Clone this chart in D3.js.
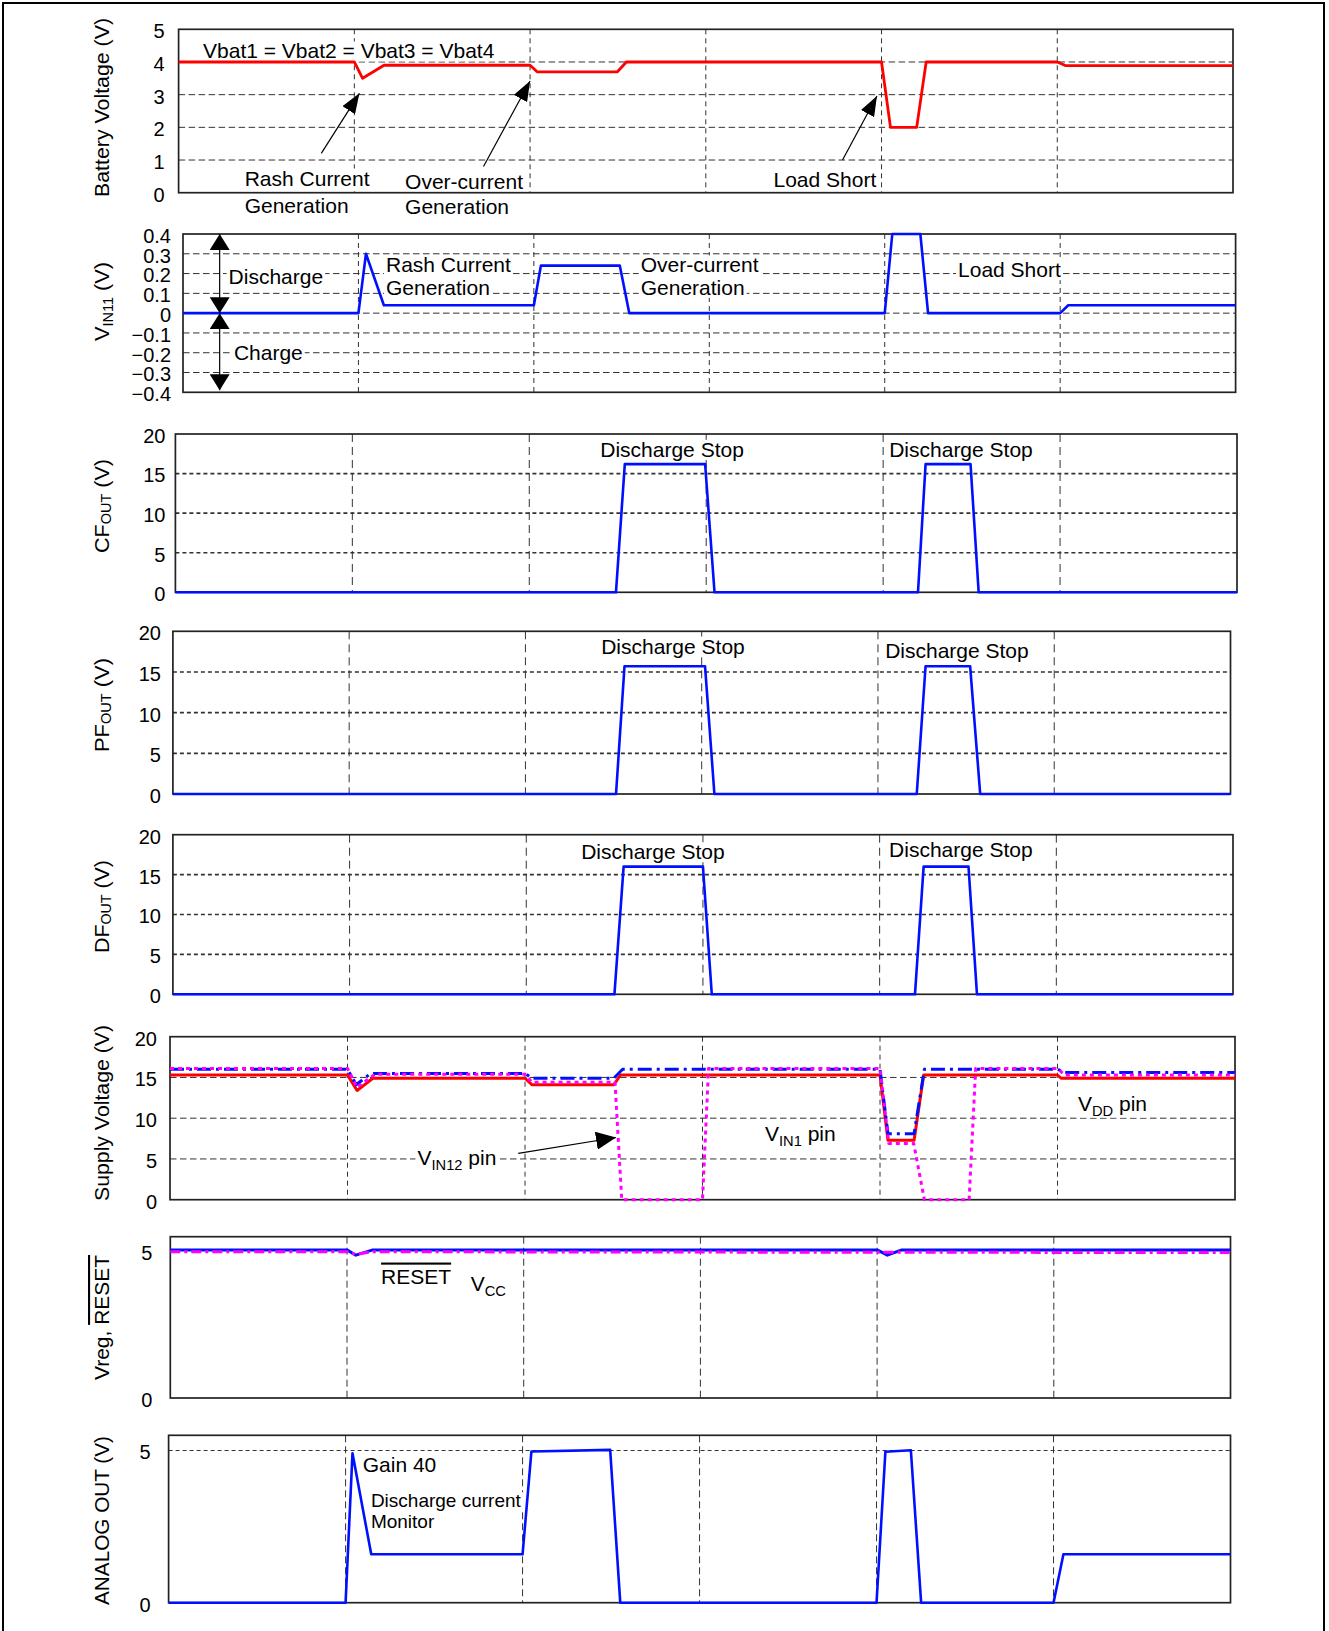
<!DOCTYPE html>
<html><head><meta charset="utf-8">
<script src="https://cdn.jsdelivr.net/npm/d3@7"></script>
<style>
body{margin:0;background:#fff;}
svg{display:block;font-family:"Liberation Sans",Arial,Helvetica,sans-serif;}
</style></head><body>
<svg id="chart" width="1329" height="1631"></svg>
<script>
// ---------------- data (time in grid units 0..6) ----------------
const timeGrid = [1, 2, 3, 4, 5];
const batteryTicks = [0, 1, 2, 3, 4, 5];
const vin11Ticks = [-0.4, -0.3, -0.2, -0.1, 0, 0.1, 0.2, 0.3, 0.4];
const fetTicks = [0, 5, 10, 15, 20];
const vregTicks = [0, 5];
const analogTicks = [0, 5];

const batteryVoltage = [[0,4.0],[1.0,4.0],[1.047,3.5],[1.169,3.9],[2.0,3.9],[2.04,3.7],[2.497,3.7],[2.548,4.0],[4.0,4.0],[4.051,2.0],[4.2,2.0],[4.254,4.0],[5.0,4.0],[5.046,3.89],[6,3.89]];
const vin11 = [[0,0],[1.0,0],[1.043,0.30],[1.145,0.04],[2.0,0.04],[2.04,0.24],[2.49,0.24],[2.544,0],[4.0,0],[4.043,0.4],[4.203,0.4],[4.247,0],[5.0,0],[5.046,0.04],[6,0.04]];
const cfOut = [[0,0],[2.49,0],[2.54,16.2],[2.994,16.2],[3.047,0],[4.197,0],[4.24,16.2],[4.494,16.2],[4.54,0],[6,0]];
const pfOut = [[0,0],[2.514,0],[2.562,15.7],[3.019,15.7],[3.072,0],[4.22,0],[4.27,15.7],[4.523,15.7],[4.58,0],[6,0]];
const dfOut = [[0,0],[2.499,0],[2.551,16.0],[3.0,16.0],[3.05,0],[4.2,0],[4.249,16.0],[4.503,16.0],[4.551,0],[6,0]];
const vddPin = [[0,15.3],[1.0,15.3],[1.054,13.4],[1.143,14.9],[2.0,14.9],[2.04,14.1],[2.5,14.1],[2.538,15.3],[4.0,15.3],[4.045,7.3],[4.192,7.3],[4.246,15.3],[5.0,15.3],[5.02,14.9],[6,14.9]];
const vin1Pin = [[0,16.0],[1.0,16.0],[1.049,14.1],[1.131,15.5],[2.0,15.5],[2.04,14.9],[2.5,14.9],[2.55,16.0],[4.0,16.0],[4.045,8.1],[4.192,8.1],[4.25,16.0],[5.0,16.0],[5.04,15.6],[6,15.6]];
const vin12Pin = [[0,16.1],[1.0,16.1],[1.054,13.8],[1.155,15.4],[2.0,15.4],[2.04,14.4],[2.507,14.4],[2.545,0],[3.0,0],[3.034,16.1],[4.0,16.1],[4.05,6.9],[4.19,6.9],[4.25,0],[4.502,0],[4.539,16.1],[5.0,16.1],[5.04,15.3],[6,15.3]];
const vccLine = [[0,5.05],[1.0,5.05],[1.05,4.87],[1.146,5.05],[4.0,5.05],[4.058,4.87],[4.14,5.05],[6,5.05]];
const resetLine = [[0,4.99],[1.0,4.99],[1.05,4.9],[1.146,4.99],[2.0,4.98],[6,4.96]];
const analogOut = [[0,0],[1.0,0],[1.039,4.91],[1.145,1.59],[2.0,1.59],[2.05,4.97],[2.495,5.02],[2.552,0],[4.0,0],[4.05,4.96],[4.194,5.01],[4.252,0],[5.0,0],[5.056,1.59],[6,1.59]];

// ---------------- layout / styles ----------------
const RED = '#ff0000', BLUE = '#0010ff', MAG = '#ff00ff';
const fmtInt = d3.format('d');
const fmtTenth = d => d === 0 ? '0' : d3.format('.1f')(d);

const panels = [
  { frame:[178.6,1233,29.3,192.7], yDomain:[0,5], ticks:batteryTicks, hgrid:[1,2,3,4], pad:14, fmt:fmtInt, gv:'5,4', gh:'6.5,3.5', ghw:1,
    title:[['Battery Voltage (V)']], span:[18,197],
    series:[{data:batteryVoltage, color:RED, w:2.8}],
    notes:[
      {parts:[['Vbat1 = Vbat2 = Vbat3 = Vbat4']], t:0.139, v:4.34},
      {parts:[['Rash Current']], t:0.376, v:0.45},
      {parts:[['Generation']], t:0.376, v:-0.39},
      {parts:[['Over-current']], t:1.289, v:0.33},
      {parts:[['Generation']], t:1.289, v:-0.42},
      {parts:[['Load Short']], t:3.97, v:0.42, anchor:'end'}
    ],
    arrows:[
      {from:[0.812,1.205], to:[1.029,3.04], m:'a1'},
      {from:[1.735,0.80], to:[2.0,3.42], m:'a1'},
      {from:[3.778,1.0], to:[3.974,2.96], m:'a1'}
    ]},
  { frame:[183,1235.6,234,392.3], yDomain:[-0.4,0.4], ticks:vin11Ticks, hgrid:[-0.3,-0.2,-0.1,0,0.1,0.2,0.3], pad:12, fmt:fmtTenth, gv:'5,4', gh:'6.5,3.5', ghw:1,
    title:[['V'],['IN11',1],[' (V)']], span:[262,341],
    series:[{data:vin11, color:BLUE, w:2.6}],
    notes:[
      {parts:[['Discharge']], t:0.26, v:0.188},
      {parts:[['Charge']], t:0.29, v:-0.20},
      {parts:[['Rash Current']], t:1.157, v:0.244},
      {parts:[['Generation']], t:1.157, v:0.131},
      {parts:[['Over-current']], t:2.609, v:0.244},
      {parts:[['Generation']], t:2.609, v:0.131},
      {parts:[['Load Short']], t:4.418, v:0.22}
    ],
    arrows:[
      {from:[0.209,0.4], to:[0.209,0.0], m:'a2', both:true},
      {from:[0.209,0.0], to:[0.209,-0.39], m:'a2', both:true}
    ]},
  { frame:[175.4,1237,434,592.3], yDomain:[0,20], ticks:fetTicks, hgrid:[5,10,15], pad:10, fmt:fmtInt, gv:'8,5', gh:'4,3', ghw:1.6,
    title:[['CF'],['OUT',2],[' (V)']], span:[459,553],
    series:[{data:cfOut, color:BLUE, w:2.6}],
    notes:[
      {parts:[['Discharge Stop']], t:2.807, v:18.07, anchor:'middle'},
      {parts:[['Discharge Stop']], t:4.44, v:18.07, anchor:'middle'}
    ], arrows:[]},
  { frame:[172.9,1230.5,631.3,794], yDomain:[0,20], ticks:fetTicks, hgrid:[5,10,15], pad:12, fmt:fmtInt, gv:'8,5', gh:'4,3', ghw:1.6,
    title:[['PF'],['OUT',2],[' (V)']], span:[658,752],
    series:[{data:pfOut, color:BLUE, w:2.6}],
    notes:[
      {parts:[['Discharge Stop']], t:2.837, v:18.2, anchor:'middle'},
      {parts:[['Discharge Stop']], t:4.448, v:17.6, anchor:'middle'}
    ], arrows:[]},
  { frame:[172.9,1233,834.7,994.3], yDomain:[0,20], ticks:fetTicks, hgrid:[5,10,15], pad:12, fmt:fmtInt, gv:'8,5', gh:'4,3', ghw:1.6,
    title:[['DF'],['OUT',2],[' (V)']], span:[860,953],
    series:[{data:dfOut, color:BLUE, w:2.6}],
    notes:[
      {parts:[['Discharge Stop']], t:2.717, v:17.87, anchor:'middle'},
      {parts:[['Discharge Stop']], t:4.46, v:18.2, anchor:'middle'}
    ], arrows:[]},
  { frame:[170,1235,1036.7,1199.7], yDomain:[0,20], ticks:fetTicks, hgrid:[5,10,15], pad:13, fmt:fmtInt, gv:'5,4', gh:'6.5,3.5', ghw:1,
    title:[['Supply Voltage (V)']], span:[1025,1201],
    series:[
      {data:vddPin, color:RED, w:3},
      {data:vin1Pin, color:BLUE, w:3, dash:'14,5,3,5'},
      {data:vin12Pin, color:MAG, w:3, dash:'4,4'}
    ],
    notes:[
      {parts:[['V'],['IN12',1],[' pin']], t:1.394, v:5.24},
      {parts:[['V'],['IN1',1],[' pin']], t:3.352, v:8.18},
      {parts:[['V'],['DD',1],[' pin']], t:5.115, v:11.86}
    ],
    arrows:[{from:[1.962,5.69], to:[2.513,7.63], m:'a3'}]},
  { frame:[170.3,1230.5,1236.7,1398], yDomain:[0,5.5], ticks:vregTicks, hgrid:[], pad:18, fmt:fmtInt, gv:'7,4', gh:'4,3', ghw:1,
    title:[['Vreg, '],['RESET',0,1]], span:[1255,1380],
    series:[
      {data:vccLine, color:BLUE, w:3},
      {data:resetLine, color:MAG, w:3, dash:'10,4,3,4'}
    ],
    notes:[
      {parts:[['RESET',0,1]], t:1.193, v:4.16},
      {parts:[['V'],['CC',1]], t:1.70, v:3.91}
    ], arrows:[]},
  { frame:[168.6,1230.5,1435.3,1602.7], yDomain:[0,5.5], ticks:analogTicks, hgrid:[5], pad:18, fmt:fmtInt, gv:'7,4', gh:'4,3', ghw:1.2,
    title:[['ANALOG OUT (V)']], span:[1436,1605],
    series:[{data:analogOut, color:BLUE, w:2.6}],
    notes:[
      {parts:[['Gain 40']], t:1.097, v:4.54},
      {parts:[['Discharge current']], t:1.143, v:3.36, size:19},
      {parts:[['Monitor']], t:1.143, v:2.68, size:19}
    ], arrows:[]}
];

// ---------------- drawing ----------------
const svg = d3.select('#chart');
const defs = svg.append('defs');
function marker(id, len, wid) {
  defs.append('marker').attr('id', id).attr('markerUnits', 'userSpaceOnUse')
    .attr('markerWidth', len).attr('markerHeight', wid)
    .attr('refX', len).attr('refY', wid / 2).attr('orient', 'auto-start-reverse')
    .append('path').attr('d', `M0,0L${len},${wid/2}L0,${wid}Z`).attr('fill', '#000');
}
marker('a1', 20, 15);
marker('a2', 16, 20);
marker('a3', 20, 18);

svg.append('rect').attr('x', 3).attr('y', 3).attr('width', 1321).attr('height', 1660)
  .attr('fill', 'none').attr('stroke', '#000').attr('stroke-width', 2);

function rich(textSel, parts, subSize, subShift) {
  let shift = 0;
  parts.forEach(([s, sub, over]) => {
    const ts = textSel.append('tspan').text(s);
    if (sub) {
      const sh = sub === 2 ? subShift * 0.6 : subShift;
      ts.attr('font-size', subSize).attr('dy', sh - shift); shift = sh;
    } else if (shift !== 0) {
      ts.attr('dy', -shift); shift = 0;
    }
    if (over) ts.style('text-decoration', 'overline');
  });
}

panels.forEach(p => {
  const [L, R, T, B] = p.frame;
  const x = d3.scaleLinear().domain([0, 6]).range([L, R]);
  const y = d3.scaleLinear().domain(p.yDomain).range([B, T]);
  const g = svg.append('g');
  const gridG = g.append('g');
  const bgG = g.append('g');
  const frameG = g.append('g');
  const seriesG = g.append('g');
  const textG = g.append('g');
  const arrowG = g.append('g');

  gridG.selectAll('line.h').data(p.hgrid).join('line').attr('class', 'h')
    .attr('x1', L).attr('x2', R).attr('y1', d => y(d)).attr('y2', d => y(d))
    .attr('stroke', '#333').attr('stroke-width', p.ghw).attr('stroke-dasharray', p.gh);
  gridG.selectAll('line.v').data(timeGrid).join('line').attr('class', 'v')
    .attr('x1', d => x(d)).attr('x2', d => x(d)).attr('y1', T).attr('y2', B)
    .attr('stroke', '#333').attr('stroke-width', 1).attr('stroke-dasharray', p.gv);

  frameG.append('rect').attr('x', L).attr('y', T).attr('width', R - L).attr('height', B - T)
    .attr('fill', 'none').attr('stroke', '#222').attr('stroke-width', 1.7);

  const line = d3.line().x(d => x(d[0])).y(d => y(d[1]));
  p.series.forEach(s => {
    seriesG.append('path').datum(s.data).attr('d', line)
      .attr('fill', 'none').attr('stroke', s.color).attr('stroke-width', s.w)
      .attr('stroke-linejoin', 'round')
      .attr('stroke-dasharray', s.dash || null);
  });

  // axis
  const ax = g.append('g').attr('transform', `translate(${L},0)`)
    .call(d3.axisLeft(y).tickValues(p.ticks).tickSize(0).tickPadding(p.pad).tickFormat(p.fmt));
  ax.select('.domain').remove();
  ax.attr('font-family', null).attr('font-size', null);
  ax.selectAll('text').attr('font-size', 20).attr('fill', '#000').attr('dy', '0.42em');

  // title
  const cy = (p.span[0] + p.span[1]) / 2;
  const tt = g.append('text').attr('x', 109).attr('y', cy)
    .attr('transform', `rotate(-90,109,${cy})`).attr('text-anchor', 'middle')
    .attr('font-size', 21).attr('fill', '#000')
    .attr('textLength', p.span[1] - p.span[0]).attr('lengthAdjust', 'spacingAndGlyphs');
  rich(tt, p.title, 14, 4);

  // annotations
  p.notes.forEach(n => {
    const size = n.size || 21;
    const tx = textG.append('text').attr('x', x(n.t)).attr('y', y(n.v) + size * 0.36)
      .attr('text-anchor', n.anchor || 'start').attr('font-size', size).attr('fill', '#000');
    rich(tx, n.parts, size * 0.7, 5);
    const bb = tx.node().getBBox();
    bgG.append('rect').attr('x', bb.x - 2).attr('y', bb.y + 2).attr('width', bb.width + 4)
      .attr('height', bb.height - 3).attr('fill', '#fff');
  });

  p.arrows.forEach(a => {
    arrowG.append('line')
      .attr('x1', x(a.from[0])).attr('y1', y(a.from[1]))
      .attr('x2', x(a.to[0])).attr('y2', y(a.to[1]))
      .attr('stroke', '#000').attr('stroke-width', 1.2)
      .attr('marker-end', `url(#${a.m})`)
      .attr('marker-start', a.both ? `url(#${a.m})` : null);
  });
});
</script>
</body></html>
